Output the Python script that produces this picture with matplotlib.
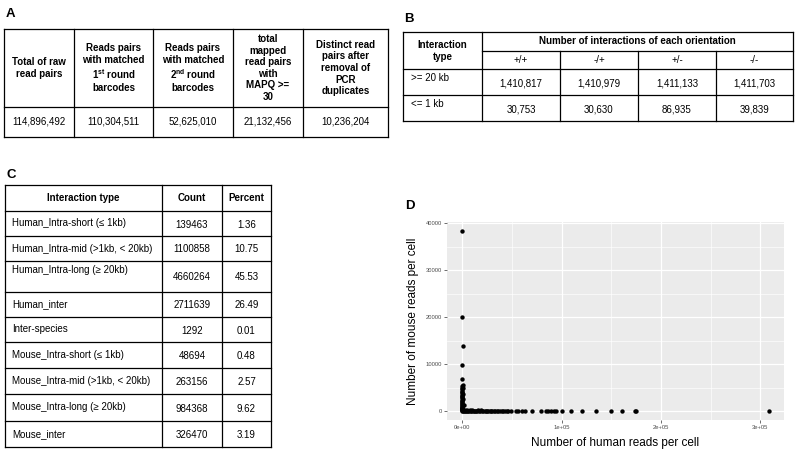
import numpy as np
import matplotlib
matplotlib.use('Agg')
import matplotlib.pyplot as plt
from matplotlib.ticker import FuncFormatter, MultipleLocator

plt.rcParams['font.family'] = ['Liberation Sans', 'DejaVu Sans']
plt.rcParams['mathtext.fontset'] = 'custom'
plt.rcParams['mathtext.rm'] = 'Liberation Sans'
plt.rcParams['mathtext.bf'] = 'Liberation Sans:bold'

# Tabla A
cab_a = ['Total of raw\nread pairs',
         'Reads pairs\nwith matched\n$\\mathbf{1^{st}}$ round\nbarcodes',
         'Reads pairs\nwith matched\n$\\mathbf{2^{nd}}$ round\nbarcodes',
         'total\nmapped\nread pairs\nwith\nMAPQ >=\n30',
         'Distinct read\npairs after\nremoval of\nPCR\nduplicates']
val_a = ['114,896,492', '110,304,511', '52,625,010', '21,132,456', '10,236,204']

# Tabla B
orient = ['+/+', '-/+', '+/-', '-/-']
tipos_b = ['>= 20 kb', '<= 1 kb']
val_b = [['1,410,817', '1,410,979', '1,411,133', '1,411,703'],
         ['30,753', '30,630', '86,935', '39,839']]

# Tabla C
tipos_c = ['Human_Intra-short (≤ 1kb)', 'Human_Intra-mid (>1kb, < 20kb)',
           'Human_Intra-long (≥ 20kb)', 'Human_inter', 'Inter-species',
           'Mouse_Intra-short (≤ 1kb)', 'Mouse_Intra-mid (>1kb, < 20kb)',
           'Mouse_Intra-long (≥ 20kb)', 'Mouse_inter']
cuenta_c = [139463, 1100858, 4660264, 2711639, 1292, 48694, 263156, 984368, 326470]
pct_c = ['1.36', '10.75', '45.53', '26.49', '0.01', '0.48', '2.57', '9.62', '3.19']

# Panel D: celulas de raton (humano ~ 0)
raton_h = [150, 90, 210, 60, 120, 300, 80, 40, 260, 110, 170, 70, 30, 220, 140,
           50, 190, 100, 250, 60, 130, 80, 1900, 40, 160, 90, 200, 70, 120, 50,
           30, 180, 60, 100, 20]
raton_m = [38300, 20000, 13800, 9900, 6900, 5500, 5300, 5000, 4800, 4600, 4300,
           4100, 3900, 3600, 3400, 3200, 2900, 2700, 2500, 2300, 2100, 1900, 1300,
           1700, 1500, 1200, 1000, 850, 700, 600, 450, 350, 250, 150, 80]
# celulas humanas (raton ~ 0)
humano_h = [600, 1200, 1800, 2500, 3100, 3800, 4400, 5200, 6000, 6700, 7500, 8300,
            9100, 10000, 10900, 11800, 12700, 13700, 14600, 15600, 16700, 17800,
            18900, 20000, 21200, 22400, 23600, 24900, 26200, 27500, 28900, 30300,
            31800, 33200, 34800, 36300, 37900, 39500, 41200, 42900, 44600, 46000,
            49300, 53700, 56000, 60400, 62800, 70100, 79500, 83900, 86200, 89600,
            91900, 94600, 100300, 109700, 120800, 134200, 150000, 160700, 174200,
            175000, 308400]
humano_m = [60, 120, 40, 200, 90, 30, 150, 70, 110, 50, 180, 20, 90, 140, 60, 30,
            100, 70, 40, 160, 80, 50, 120, 30, 90, 60, 40, 110, 70, 20, 80, 50,
            30, 60, 40, 90, 20, 50, 30, 70, 40, 20, 30, 50, 20, 40, 30, 20, 40, 30,
            20, 50, 30, 20, 40, 30, 20, 30, 20, 40, 30, 20, 10]

fig = plt.figure(figsize=(7.97, 4.5), dpi=100)
fondo = fig.add_axes([0, 0, 1, 1])
fondo.set_xlim(0, 797)
fondo.set_ylim(450, 0)
fondo.axis('off')

LW = 0.9
fs = 7


def linea(x0, x1, y0, y1):
    fondo.plot([x0, x1], [y0, y1], color='black', lw=LW, solid_capstyle='projecting')


# letras de panel
for letra, (lx, ly) in zip('ABCD', [(6, 17), (404, 22), (7, 178), (405, 209)]):
    fondo.text(lx, ly, letra, fontsize=9.5, fontweight='bold', va='baseline', ha='left')

# ---- Tabla A ----
xa = [4, 74, 153, 233, 303, 388]
ya = [29, 107, 137]
for y in ya:
    linea(xa[0], xa[-1], y, y)
for x in xa:
    linea(x, x, ya[0], ya[-1])
for i in range(5):
    xc = (xa[i] + xa[i + 1]) / 2
    fondo.text(xc, (ya[0] + ya[1]) / 2, cab_a[i], ha='center', va='center',
               fontsize=fs, fontweight='bold', linespacing=1.2, multialignment='center')
    fondo.text(xc, (ya[1] + ya[2]) / 2, val_a[i], ha='center', va='center', fontsize=fs)

# ---- Tabla B ----
xb = [403, 482, 560, 638, 716, 793]
yb = [32, 51, 69, 95, 121]
for y in [32, 69, 95, 121]:
    linea(xb[0], xb[-1], y, y)
linea(xb[1], xb[-1], yb[1], yb[1])
for x in [xb[0], xb[1], xb[-1]]:
    linea(x, x, yb[0], yb[-1])
for x in xb[2:5]:
    linea(x, x, yb[1], yb[-1])
fondo.text((xb[0] + xb[1]) / 2, 51, 'Interaction\ntype', ha='center', va='center',
           fontsize=fs, fontweight='bold', linespacing=1.25)
fondo.text((xb[1] + xb[-1]) / 2, 41.5, 'Number of interactions of each orientation',
           ha='center', va='center', fontsize=fs, fontweight='bold')
for j in range(4):
    xc = (xb[j + 1] + xb[j + 2]) / 2
    fondo.text(xc, 60, orient[j], ha='center', va='center', fontsize=fs)
    for r in range(2):
        fondo.text(xc, (yb[r + 2] + yb[r + 3]) / 2 + 1, val_b[r][j], ha='center',
                   va='center', fontsize=fs)
for r in range(2):
    fondo.text(411, yb[r + 2] + 9, tipos_b[r], ha='left', va='center', fontsize=fs)

# ---- Tabla C ----
xc_ = [5, 162, 222, 271]
yc = [185, 211, 236, 261, 292, 317, 342, 368, 394, 421, 447]
for y in yc:
    linea(xc_[0], xc_[-1], y, y)
for x in xc_:
    linea(x, x, yc[0], yc[-1])
ym = (yc[0] + yc[1]) / 2
fondo.text((xc_[0] + xc_[1]) / 2, ym, 'Interaction type', ha='center', va='center',
           fontsize=fs, fontweight='bold')
fondo.text((xc_[1] + xc_[2]) / 2, ym, 'Count', ha='center', va='center',
           fontsize=fs, fontweight='bold')
fondo.text((xc_[2] + xc_[3]) / 2, ym, 'Percent', ha='center', va='center',
           fontsize=fs, fontweight='bold')
for i in range(9):
    y0, y1 = yc[i + 1], yc[i + 2]
    yl = (y0 + y1) / 2 if i != 2 else y0 + 9
    fondo.text(12, yl, tipos_c[i], ha='left', va='center', fontsize=fs)
    fondo.text((xc_[1] + xc_[2]) / 2, (y0 + y1) / 2 + 1, str(cuenta_c[i]),
               ha='center', va='center', fontsize=fs)
    fondo.text((xc_[2] + xc_[3]) / 2, (y0 + y1) / 2 + 1, pct_c[i],
               ha='center', va='center', fontsize=fs)

# ---- Panel D ----
ax = fig.add_axes([447 / 797, 1 - 420 / 450, 337 / 797, 198 / 450])
ax.set_facecolor('#EBEBEB')
ax.scatter(raton_h + humano_h, raton_m + humano_m, s=10, color='black',
           linewidths=0, zorder=3)
ax.margins(0.05)
ax.xaxis.set_major_locator(MultipleLocator(100000))
ax.xaxis.set_minor_locator(MultipleLocator(50000))
ax.yaxis.set_major_locator(MultipleLocator(10000))
ax.yaxis.set_minor_locator(MultipleLocator(5000))
ax.xaxis.set_major_formatter(FuncFormatter(lambda v, p: '{:.0e}'.format(v)))
ax.yaxis.set_major_formatter(FuncFormatter(lambda v, p: '{:.0f}'.format(v)))
ax.grid(which='major', color='white', lw=0.9)
ax.grid(which='minor', color='white', lw=0.45)
ax.set_axisbelow(True)
for s in ax.spines.values():
    s.set_visible(False)
ax.tick_params(which='major', length=2, width=0.5, color='#333333',
               labelsize=4.2, labelcolor='#4D4D4D', pad=1.5)
ax.tick_params(which='minor', length=0)
ax.set_xlabel('Number of human reads per cell', fontsize=8.5, labelpad=5)
ax.set_ylabel('Number of mouse reads per cell', fontsize=8.5, labelpad=5)

fig.savefig('out.png', dpi=100)
